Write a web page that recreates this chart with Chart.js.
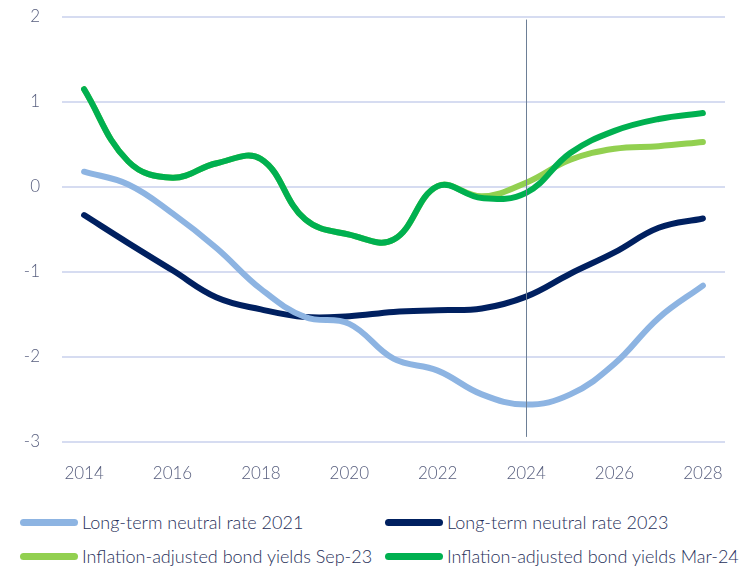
<!DOCTYPE html>
<html>
<head>
<meta charset="utf-8">
<script src="https://cdn.jsdelivr.net/npm/chart.js@4/dist/chart.umd.min.js"></script>
<style>
  body { margin: 0; background: #fff; font-family: Lato, "Liberation Sans", sans-serif; }
  #wrap { position: relative; width: 745px; height: 572px; }
  #legend { position: absolute; left: 0; top: 511px; width: 745px; }
  .item { position: absolute; display: flex; align-items: center; font-size: 18px; font-weight: 300; color: #27305a; white-space: nowrap; }
  .sw { width: 58px; height: 7px; border-radius: 4px; margin-right: 4px; }
</style>
</head>
<body>
<div id="wrap">
  <canvas id="myChart" width="745" height="500"></canvas>
  <div id="legend"></div>
</div>
<script>
var years = ['2014','2015','2016','2017','2018','2019','2020','2021','2022','2023','2024','2025','2026','2027','2028']
var neutral2021 = [0.18, 0.03, -0.31, -0.72, -1.2, -1.53, -1.61, -2.02, -2.16, -2.44, -2.56, -2.44, -2.08, -1.54, -1.16]
var neutral2023 = [-0.33, -0.66, -0.98, -1.3, -1.44, -1.53, -1.52, -1.47, -1.45, -1.43, -1.29, -1.02, -0.77, -0.48, -0.37]
var yieldsSep23 = [1.15, 0.3, 0.11, 0.28, 0.33, -0.38, -0.56, -0.62, 0.01, -0.11, 0.05, 0.32, 0.45, 0.48, 0.53]
var yieldsMar24 = [1.15, 0.3, 0.11, 0.28, 0.33, -0.38, -0.56, -0.62, 0.01, -0.13, -0.07, 0.4, 0.66, 0.8, 0.87]
var markerYear = '2024'

var tickFont = { family: 'Lato, "Liberation Sans", sans-serif', size: 17, weight: 300 }

// vertical line at 2024
const markerLine = {
    id: 'markerLine',
    afterDatasetsDraw(chart) {
        const x = chart.scales.x.getPixelForValue(years.indexOf(markerYear))
        const y = chart.scales.y
        const c = chart.ctx
        c.save()
        c.strokeStyle = '#6d7f96'
        c.lineWidth = 1
        c.beginPath()
        c.moveTo(Math.round(x) + 0.5, y.getPixelForValue(1.97))
        c.lineTo(Math.round(x) + 0.5, y.getPixelForValue(-2.94))
        c.stroke()
        c.restore()
    }
}

const series = [
    { label: 'Long-term neutral rate 2021', data: neutral2021, color: '#8db4e2', order: 1 },
    { label: 'Long-term neutral rate 2023', data: neutral2023, color: '#002060', order: 1 },
    { label: 'Inflation-adjusted bond yields Sep-23', data: yieldsSep23, color: '#92d050', order: 2 },
    { label: 'Inflation-adjusted bond yields Mar-24', data: yieldsMar24, color: '#00b050', order: 0 }
]

const ctx = document.getElementById('myChart').getContext('2d')
const myChart = new Chart(ctx, {
    type: 'line',
    data: {
        labels: years,
        datasets: series.map(s => ({
            label: s.label,
            data: s.data,
            borderColor: s.color,
            backgroundColor: s.color,
            borderWidth: 6,
            borderCapStyle: 'round',
            borderJoinStyle: 'round',
            pointRadius: 0,
            tension: 0.4,
            fill: false,
            order: s.order
        }))
    },
    options: {
        responsive: false,
        animation: false,
        layout: { padding: { top: 17, right: 20, left: 0, bottom: 0 } },
        plugins: { legend: { display: false }, tooltip: { enabled: false } },
        scales: {
            x: {
                offset: true,
                grid: { display: false },
                border: { display: false },
                ticks: {
                    autoSkip: false,
                    maxRotation: 0,
                    padding: 13,
                    color: '#575e7e',
                    font: tickFont,
                    callback: function (v, i) { return i % 2 == 0 ? years[i] : '' }
                },
                afterFit: function (s) { s.height = 58; s.paddingLeft = 0; s.paddingRight = 0 }
            },
            y: {
                min: -3,
                max: 2,
                grid: { color: '#d6dcf1', lineWidth: 2, drawTicks: false },
                border: { display: false },
                ticks: { stepSize: 1, padding: 22, color: '#575e7e', font: tickFont },
                afterFit: function (s) { s.width = 62; s.paddingTop = 0; s.paddingBottom = 0 }
            }
        }
    },
    plugins: [markerLine]
})

// legend, two columns
var legendPos = [[20, 0], [385, 0], [20, 34], [385, 34]]
var legend = document.getElementById('legend')
series.forEach(function (s, i) {
    var d = document.createElement('div')
    d.className = 'item'
    d.style.left = legendPos[i][0] + 'px'
    d.style.top = legendPos[i][1] + 'px'
    d.innerHTML = '<span class="sw" style="background:' + s.color + '"></span><span>' + s.label + '</span>'
    legend.appendChild(d)
})
</script>
</body>
</html>
